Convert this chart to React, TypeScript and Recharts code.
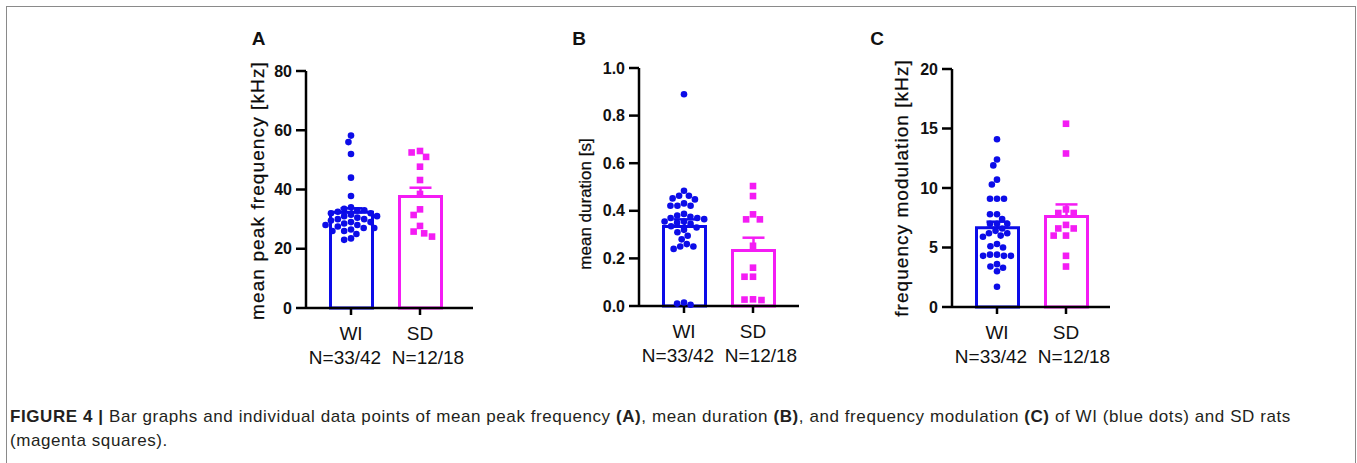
import React from 'react';
import { ComposedChart, Bar, Cell, ErrorBar, Scatter, XAxis, YAxis, Label } from 'recharts';

// ---------- data ----------
const groups = ['WI', 'SD'];
const groupCounts = ['N=33/42', 'N=12/18'];
const colors = ['#0c0ce8', '#f41cf4'];

// A: mean peak frequency [kHz]
const peakWI = [58.2, 56.0, 52.0, 44.0, 37.8, 34, 33.5, 33, 33, 32.5, 32, 32, 31.5, 31, 31, 30.5, 30, 30, 29.5, 29, 29, 28.5, 28, 28, 27.5, 27, 27, 26.5, 26, 26, 25, 23.5, 23];
const peakSD = [53, 52.5, 51, 47.7, 43.2, 38.5, 33.3, 31.4, 27.7, 25.8, 25.2, 24.1];
const peakMeans = [32.3, 37.6];
const peakSEM = [1.35, 3.0];
const peakTicks = [0, 20, 40, 60, 80];

// B: mean duration [s]
const durWI = [0.89, 0.484, 0.463, 0.463, 0.452, 0.448, 0.431, 0.421, 0.421, 0.421, 0.387, 0.38, 0.375, 0.37, 0.37, 0.365, 0.355, 0.355, 0.35, 0.345, 0.335, 0.33, 0.32, 0.31, 0.295, 0.28, 0.26, 0.25, 0.25, 0.24, 0.015, 0.01, 0.005];
const durSD = [0.504, 0.462, 0.385, 0.364, 0.364, 0.253, 0.161, 0.123, 0.123, 0.028, 0.027, 0.025];
const durMeans = [0.334, 0.233];
const durSEM = [0.03, 0.054];
const durTicks = [0, 0.2, 0.4, 0.6, 0.8, 1.0];

// C: frequency modulation [kHz]
const fmWI = [14.1, 12.4, 11.9, 10.7, 10.3, 9.1, 9.1, 9.1, 7.8, 7.8, 7.4, 7.0, 7.0, 7.0, 6.6, 6.4, 6.2, 6.2, 6.0, 5.9, 5.3, 5.1, 5.0, 4.4, 4.4, 4.3, 4.3, 4.3, 3.6, 3.4, 3.3, 3.0, 1.7];
const fmSD = [15.4, 12.9, 8.2, 7.9, 7.9, 6.9, 6.6, 6.6, 6.0, 6.0, 4.3, 3.4];
const fmMeans = [6.66, 7.6];
const fmSEM = [0.51, 1.02];
const fmTicks = [0, 5, 10, 15, 20];

const FONT = '"Liberation Sans", Arial, Helvetica, sans-serif';

// beeswarm layout (pixel offsets) computed from the values
function swarm(values: number[], pxPerUnit: number, diam: number): number[] {
  const order = values.map((_, i) => i).sort((a, b) => values[b] - values[a]);
  const placed: { x: number; y: number }[] = [];
  const out: number[] = new Array(values.length).fill(0);
  for (const i of order) {
    const y = values[i] * pxPerUnit;
    const iv: [number, number][] = [];
    for (const p of placed) {
      const dy = Math.abs(p.y - y);
      if (dy < diam) {
        const dx = Math.sqrt(diam * diam - dy * dy);
        iv.push([p.x - dx, p.x + dx]);
      }
    }
    const cands = [0];
    for (const [a, b] of iv) cands.push(a, b);
    cands.sort((a, b) => Math.abs(a) - Math.abs(b) || a - b);
    let x = 0;
    for (const c of cands) {
      if (iv.every(([a, b]) => c <= a + 1e-6 || c >= b - 1e-6)) { x = c; break; }
    }
    placed.push({ x, y });
    out[i] = x;
  }
  return out;
}

const GroupTick = (props: any) => {
  const { x, y, payload, index } = props;
  const shift = index === 0 ? -6 : 8;
  return (
    <g>
      <text x={x} y={y + 16} textAnchor="middle" dominantBaseline="central" fontSize={19} fill="#111" fontFamily={FONT}>{payload.value}</text>
      <text x={x + shift} y={y + 40} textAnchor="middle" dominantBaseline="central" fontSize={19} fill="#111" fontFamily={FONT}>{groupCounts[index]}</text>
    </g>
  );
};

const YTitle = (props: any) => {
  const { viewBox, text, cx, shiftY, size, spacing } = props;
  const x = viewBox.x + cx;
  const y = viewBox.y + viewBox.height / 2 + shiftY;
  return (
    <text x={x} y={y} transform={`rotate(-90 ${x} ${y})`} textAnchor="middle" dominantBaseline="central" fontSize={size} letterSpacing={spacing} fill="#0a0a0a" stroke="#0a0a0a" strokeWidth={0.25} fontFamily={FONT}>{text}</text>
  );
};

const Dot = (props: any) => <circle cx={props.cx} cy={props.cy} r={3.3} fill={colors[0]} />;
const Sq = (props: any) => <rect x={props.cx - 3.3} y={props.cy - 3.3} width={6.6} height={6.6} fill={colors[1]} />;

type PanelProps = {
  plotLeft: number; plotTop: number; plotW: number; plotH: number;
  title: string; titleCx: number; titleShift: number; titleSize: number; titleSpacing: number;
  means: number[]; sems: number[]; wi: number[]; sd: number[]; ticks: number[]; decimals: number;
};

function Panel(p: PanelProps) {
  const yW = 70, mTop = 12, mRight = 12, xH = 64, mBottom = 4;
  const band = 69;
  const padL = 45 - band / 2;
  const padR = p.plotW - padL - 2 * band;
  const max = p.ticks[p.ticks.length - 1];
  const data = groups.map((g, i) => ({
    group: g,
    mean: p.means[i],
    errWI: i === 0 ? [0, p.sems[i]] : undefined,
    errSD: i === 1 ? [0, p.sems[i]] : undefined,
  }));
  const ppu = p.plotH / max;
  const wiOff = swarm(p.wi, ppu, 7);
  const sdOff = swarm(p.sd, ppu, 8.5);
  const wiPts = p.wi.map((v, i) => ({ x: 0.5 + wiOff[i] / band, y: v }));
  const sdPts = p.sd.map((v, i) => ({ x: 1.5 + sdOff[i] / band, y: v }));
  return (
    <div style={{ position: 'absolute', left: p.plotLeft - yW, top: p.plotTop - mTop }}>
      <ComposedChart width={yW + p.plotW + mRight} height={mTop + p.plotH + xH + mBottom} data={data}
        margin={{ top: mTop, right: mRight, bottom: mBottom, left: 0 }}>
        <XAxis xAxisId="cat" dataKey="group" type="category" padding={{ left: padL, right: padR }} height={xH}
          tick={<GroupTick />} tickSize={7} interval={0}
          tickLine={{ stroke: '#000', strokeWidth: 2.5 }} axisLine={{ stroke: '#000', strokeWidth: 2.5 }} />
        <XAxis xAxisId="num" dataKey="x" type="number" domain={[0, 2]} hide padding={{ left: padL, right: padR }} allowDataOverflow />
        <YAxis width={yW} domain={[0, max]} ticks={p.ticks} type="number" interval={0}
          tickSize={10} tickMargin={4}
          tickFormatter={(v: number) => v.toFixed(p.decimals)}
          tick={{ fontSize: 16, fontWeight: 'bold', fill: '#111', fontFamily: FONT }}
          tickLine={{ stroke: '#000', strokeWidth: 2.5 }} axisLine={{ stroke: '#000', strokeWidth: 2.5 }}>
          <Label content={<YTitle text={p.title} cx={p.titleCx} shiftY={p.titleShift} size={p.titleSize} spacing={p.titleSpacing} />} />
        </YAxis>
        <Bar xAxisId="cat" dataKey="mean" barSize={42} fill="#fff" strokeWidth={3} isAnimationActive={false}>
          {data.map((d, i) => <Cell key={d.group} stroke={colors[i]} fill="#fff" />)}
          <ErrorBar dataKey="errWI" width={11} stroke={colors[0]} strokeWidth={2.5} direction="y" />
          <ErrorBar dataKey="errSD" width={11} stroke={colors[1]} strokeWidth={2.5} direction="y" />
        </Bar>
        <Scatter xAxisId="num" data={wiPts} dataKey="y" shape={<Dot />} isAnimationActive={false} />
        <Scatter xAxisId="num" data={sdPts} dataKey="y" shape={<Sq />} isAnimationActive={false} />
      </ComposedChart>
    </div>
  );
}

export default function App() {
  return (
    <div style={{ position: 'absolute', left: 0, top: 0, width: 1357, height: 463, overflow: 'hidden', background: '#fff', fontFamily: FONT }}>
      <div style={{ position: 'absolute', left: 6, top: 6, width: 1348, height: 520, border: '1.5px solid #8a8a8a' }} />
      <svg style={{ position: 'absolute', left: 0, top: 0 }} width={1357} height={60}>
        <text x={258.5} y={45} textAnchor="middle" fontSize={19} fontWeight="bold" fill="#111" fontFamily={FONT}>A</text>
        <text x={579} y={45} textAnchor="middle" fontSize={19} fontWeight="bold" fill="#111" fontFamily={FONT}>B</text>
        <text x={877} y={45} textAnchor="middle" fontSize={19} fontWeight="bold" fill="#111" fontFamily={FONT}>C</text>
      </svg>
      <Panel plotLeft={306} plotTop={71} plotW={167} plotH={237} title="mean peak frequency [kHz]"
        titleCx={-48.5 + 70} titleShift={1} titleSize={19} titleSpacing={1.1}
        means={peakMeans} sems={peakSEM} wi={peakWI} sd={peakSD} ticks={peakTicks} decimals={0} />
      <Panel plotLeft={639} plotTop={68} plotW={160} plotH={238} title="mean duration [s]"
        titleCx={-53.5 + 70} titleShift={17} titleSize={17} titleSpacing={0}
        means={durMeans} sems={durSEM} wi={durWI} sd={durSD} ticks={durTicks} decimals={1} />
      <Panel plotLeft={952} plotTop={69} plotW={158} plotH={238} title="frequency modulation [kHz]"
        titleCx={-51 + 70} titleShift={0} titleSize={19} titleSpacing={1.05}
        means={fmMeans} sems={fmSEM} wi={fmWI} sd={fmSD} ticks={fmTicks} decimals={0} />
      <div style={{ position: 'absolute', left: 10, top: 405, width: 1340, whiteSpace: 'nowrap', fontFamily: FONT, fontSize: 17, letterSpacing: '0.58px', lineHeight: '24px', color: '#231f20' }}>
        <div><b>FIGURE 4 |</b> Bar graphs and individual data points of mean peak frequency <b>(A)</b>, mean duration <b>(B)</b>, and frequency modulation <b>(C)</b> of WI (blue dots) and SD rats</div>
        <div>(magenta squares).</div>
      </div>
    </div>
  );
}
